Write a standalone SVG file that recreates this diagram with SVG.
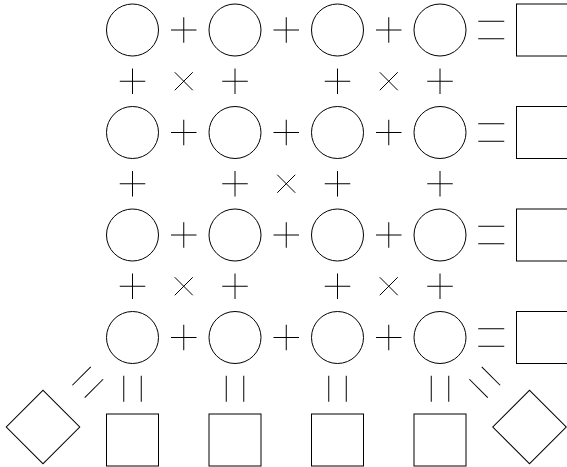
<svg xmlns="http://www.w3.org/2000/svg" xmlns:xlink="http://www.w3.org/1999/xlink" width="567" height="467" viewBox="0 0 567 467">
<style>
.n{fill:none;stroke:#000;stroke-width:1}
.o{fill:none;stroke:#000;stroke-width:1}
</style>
<defs>
<g id="plus" class="o"><line x1="-12.75" y1="0" x2="12.75" y2="0"/><line x1="0" y1="-12.75" x2="0" y2="12.75"/></g>
<g id="times" class="o"><line x1="-9" y1="-9" x2="9" y2="9"/><line x1="-9" y1="9" x2="9" y2="-9"/></g>
<g id="eq" class="o"><line x1="-13" y1="-8.75" x2="13" y2="-8.75"/><line x1="-13" y1="8.75" x2="13" y2="8.75"/></g>
</defs>
<rect width="567" height="467" fill="#fff"/>
<g id="nodes">
<g id="c00"><circle class="n" cx="132.5" cy="30" r="26"/></g>
<g id="c01"><circle class="n" cx="235" cy="30" r="26"/></g>
<g id="c02"><circle class="n" cx="337.5" cy="30" r="26"/></g>
<g id="c03"><circle class="n" cx="440" cy="30" r="26"/></g>
<g id="r0"><rect class="n" x="516.5" y="4" width="52" height="52"/></g>
<g id="c10"><circle class="n" cx="132.5" cy="132.5" r="26"/></g>
<g id="c11"><circle class="n" cx="235" cy="132.5" r="26"/></g>
<g id="c12"><circle class="n" cx="337.5" cy="132.5" r="26"/></g>
<g id="c13"><circle class="n" cx="440" cy="132.5" r="26"/></g>
<g id="r1"><rect class="n" x="516.5" y="106.5" width="52" height="52"/></g>
<g id="c20"><circle class="n" cx="132.5" cy="235" r="26"/></g>
<g id="c21"><circle class="n" cx="235" cy="235" r="26"/></g>
<g id="c22"><circle class="n" cx="337.5" cy="235" r="26"/></g>
<g id="c23"><circle class="n" cx="440" cy="235" r="26"/></g>
<g id="r2"><rect class="n" x="516.5" y="209" width="52" height="52"/></g>
<g id="c30"><circle class="n" cx="132.5" cy="337.5" r="26"/></g>
<g id="c31"><circle class="n" cx="235" cy="337.5" r="26"/></g>
<g id="c32"><circle class="n" cx="337.5" cy="337.5" r="26"/></g>
<g id="c33"><circle class="n" cx="440" cy="337.5" r="26"/></g>
<g id="r3"><rect class="n" x="516.5" y="311.5" width="52" height="52"/></g>
<g id="b0"><rect class="n" x="106.5" y="414" width="52" height="52"/></g>
<g id="b1"><rect class="n" x="209" y="414" width="52" height="52"/></g>
<g id="b2"><rect class="n" x="311.5" y="414" width="52" height="52"/></g>
<g id="b3"><rect class="n" x="414" y="414" width="52" height="52"/></g>
<g id="dl"><rect class="n" x="-26" y="-26" width="52" height="52" transform="translate(43 427) rotate(45)"/></g>
<g id="dr"><rect class="n" x="-26" y="-26" width="52" height="52" transform="translate(529.5 427) rotate(45)"/></g>
</g>
<g id="connectors">
<!-- horizontal operators -->
<use xlink:href="#plus" x="183.75" y="30"/><use xlink:href="#plus" x="286.25" y="30"/><use xlink:href="#plus" x="388.75" y="30"/><use xlink:href="#eq" x="491.25" y="30"/>
<use xlink:href="#plus" x="183.75" y="132.5"/><use xlink:href="#plus" x="286.25" y="132.5"/><use xlink:href="#plus" x="388.75" y="132.5"/><use xlink:href="#eq" x="491.25" y="132.5"/>
<use xlink:href="#plus" x="183.75" y="235"/><use xlink:href="#plus" x="286.25" y="235"/><use xlink:href="#plus" x="388.75" y="235"/><use xlink:href="#eq" x="491.25" y="235"/>
<use xlink:href="#plus" x="183.75" y="337.5"/><use xlink:href="#plus" x="286.25" y="337.5"/><use xlink:href="#plus" x="388.75" y="337.5"/><use xlink:href="#eq" x="491.25" y="337.5"/>
<!-- rows 0-1 -->
<use xlink:href="#plus" x="132.5" y="81.25"/><use xlink:href="#times" x="183.75" y="81.25"/><use xlink:href="#plus" x="235" y="81.25"/>
<use xlink:href="#plus" x="337.5" y="81.25"/><use xlink:href="#times" x="388.75" y="81.25"/><use xlink:href="#plus" x="440" y="81.25"/>
<!-- rows 1-2 -->
<use xlink:href="#plus" x="132.5" y="183.75"/><use xlink:href="#plus" x="235" y="183.75"/><use xlink:href="#times" x="286.25" y="183.75"/>
<use xlink:href="#plus" x="337.5" y="183.75"/><use xlink:href="#plus" x="440" y="183.75"/>
<!-- rows 2-3 -->
<use xlink:href="#plus" x="132.5" y="286.25"/><use xlink:href="#times" x="183.75" y="286.25"/><use xlink:href="#plus" x="235" y="286.25"/>
<use xlink:href="#plus" x="337.5" y="286.25"/><use xlink:href="#times" x="388.75" y="286.25"/><use xlink:href="#plus" x="440" y="286.25"/>
<!-- bottom equals -->
<use xlink:href="#eq" transform="translate(132.5 388.75) rotate(90)"/>
<use xlink:href="#eq" transform="translate(235 388.75) rotate(90)"/>
<use xlink:href="#eq" transform="translate(337.5 388.75) rotate(90)"/>
<use xlink:href="#eq" transform="translate(440 388.75) rotate(90)"/>
<use xlink:href="#eq" transform="translate(87.75 382.25) rotate(-45)"/>
<use xlink:href="#eq" transform="translate(484.75 382.25) rotate(45)"/>
</g>
</svg>
